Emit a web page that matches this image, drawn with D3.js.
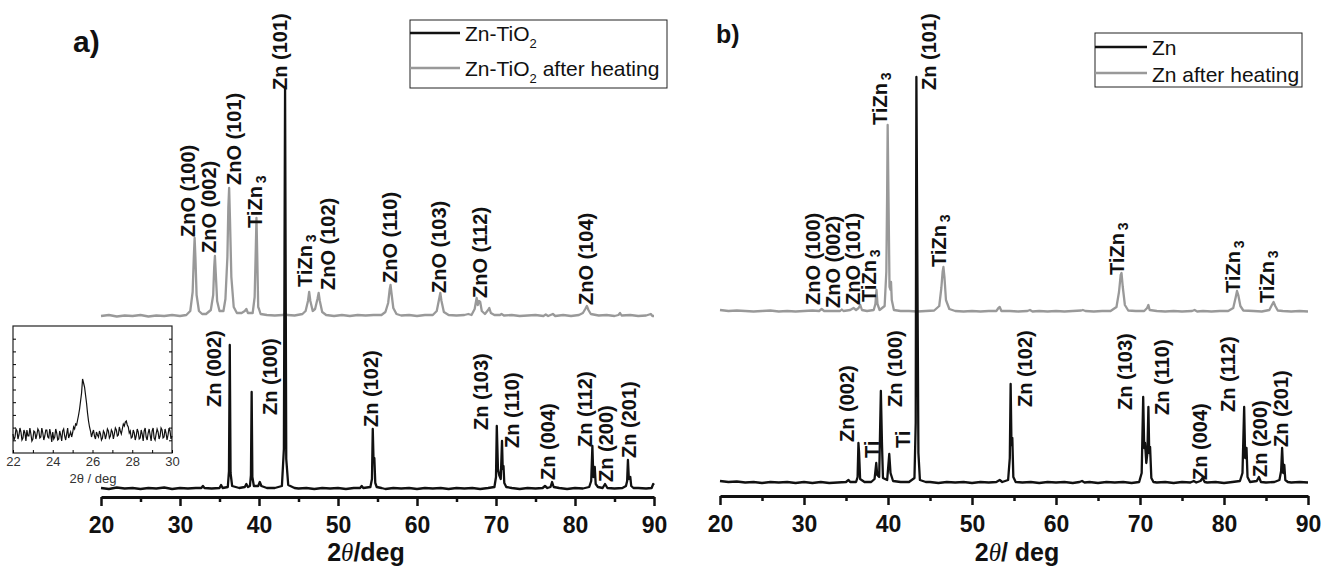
<!DOCTYPE html>
<html>
<head>
<meta charset="utf-8">
<script src="https://cdn.jsdelivr.net/npm/d3@7"></script>
<style>
  body { margin: 0; background: #fff; }
  text { font-family: "Liberation Sans", Arial, sans-serif; }
</style>
</head>
<body>
<div id="chart"></div>
<script>
var width = 1325;
var height = 570;
var black = "#111";
var grey = "#999";

// ---- data (2theta in deg, intensity in a.u. above each trace's own baseline) ----
var majorTicks = [20, 30, 40, 50, 60, 70, 80, 90];
var minorTicks = [25, 35, 45, 55, 65, 75, 85];
var insetTicks = [22, 23, 24, 25, 26, 27, 28, 29, 30];
var insetTickLabels = [22, 24, 26, 28, 30];

var znTiO2 = [
  [20,1],[21,0],[22,1.5],[23,0.5],[24,1],[25,0],[26,1],[27,0.5],[28,1.5],[29,0],[30,1],[31,0.5],[32,1],
  [32.7,1],[32.9,3],[33.1,1],[34,0.5],[35,1],[35.2,4],[35.4,1],
  [36.05,2],[36.2,18],[36.3,144],[36.4,16],[36.6,3],
  [37.5,1],[38.2,2],[38.4,5],[38.6,2],
  [38.85,3],[38.98,14],[39.07,97],[39.16,12],[39.35,3],
  [39.9,3],[40.1,7],[40.3,3],
  [41,1],[42,1],[42.9,3],[43.15,40],[43.3,401],[43.45,30],[43.7,4],
  [44.5,1],[45,0.5],[46,1],[47,0],[48,1],[49,0.5],[50,1],[51,0],[52,1],
  [52.8,1],[53,3],[53.2,1],
  [54.1,2],[54.3,10],[54.4,60],[54.5,28],[54.6,31],[54.72,6],[54.9,2],
  [55.5,1],[56,0],[57,1],[58,0.5],[59,1],[60,0],[61,1],[62,0.5],[63,1],[64,0],[65,1],[66,0.5],[67,1],[68,0],[69,1],
  [69.8,2],[70.0,12],[70.1,63],[70.25,20],[70.4,14],[70.6,10],[70.76,48],[70.85,20],[70.95,23],[71.05,6],[71.3,2],
  [72,1],[73,0],[74,1],[75,0.5],[75.9,1],[76.2,3],[76.5,1],[76.9,2],[77.1,7],[77.3,2],
  [78,1],[79,0],[80,1],[81,0.5],[81.8,2],[82.05,8],[82.2,43],[82.32,12],[82.5,22],[82.62,5],[82.9,2],
  [83.5,1],[83.8,5],[84.1,1],
  [85,0.5],[86,1],[86.45,3],[86.6,8],[86.7,29],[86.82,10],[87.0,12],[87.12,3],[87.4,1],
  [88,1],[89,0.5],[89.7,1],[89.9,5],[90,4]
];

var znTiO2Heated = [
  [20,1],[21,2],[22,0.5],[23,1.5],[24,1],[25,2],[26,0.5],[27,1.5],[28,1],[29,2],[30,1],[30.8,2],
  [31.3,6],[31.6,25],[31.75,60],[31.85,79],[31.95,60],[32.1,22],[32.4,6],[32.8,3],
  [33.3,3],[33.9,7],[34.2,22],[34.33,50],[34.42,61],[34.52,45],[34.7,16],[35.0,6],[35.5,6],
  [35.75,18],[36.0,60],[36.12,110],[36.22,129],[36.32,100],[36.5,40],[36.8,10],[37.2,4],
  [37.8,4],[38.2,6],[38.4,8],[38.6,4],
  [39.2,4],[39.45,20],[39.6,70],[39.68,99],[39.78,60],[39.9,10],[40.0,8],[40.2,3],
  [41,2],[42,1.5],[43,2],[43.3,3],[43.6,2],[44.5,1.5],[45.5,3],
  [45.9,6],[46.2,16],[46.35,25],[46.5,16],[46.8,6],[47.1,8],[47.4,18],[47.55,24],[47.7,16],[48.0,5],[48.5,2],
  [49.5,1],[50.5,2],[51.5,1],[52.5,2],[53.5,1.5],[54.5,2],[55.5,2],
  [56.0,5],[56.35,14],[56.55,28],[56.65,32],[56.8,22],[57.0,9],[57.4,3],
  [58,1.5],[59,2],[60,1],[61,2],[62,2],[62.5,6],[62.8,18],[62.95,24],[63.1,16],[63.4,5],[64,2],
  [65,1.5],[66,2],[66.5,3],[66.9,2],[67.3,8],[67.55,19],[67.7,12],[67.85,16],[68.0,15],[68.2,6],
  [68.6,3],[69.0,7],[69.15,9],[69.35,4],[69.8,2],
  [70.5,2],[70.7,3],[71.0,1.5],[72,2],[73,1],[74,1.5],[75,2],[76,1],[76.3,2.5],[76.6,1],[77.2,3],[77.5,1],
  [78.5,2],[79.5,1],[80.5,2],[81.0,4],[81.3,8],[81.5,11],[81.7,7],[82.0,3],
  [83,1.5],[84,2],[85,1],[85.5,2],[85.7,4],[85.9,1.5],
  [87,2],[88,1],[89,1.5],[89.6,3],[89.8,1],[90,1]
];

var zn = [
  [20,2],[21,1],[22,1.5],[23,0.5],[24,1],[25,0],[26,1],[27,0.5],[28,1],[29,0],[30,1],[31,0],[32,1],[33,0],[34,0.5],[35,1],
  [35.3,3],[35.5,1],[36.2,1],
  [36.38,6],[36.48,40],[36.56,30],[36.68,4],[37.2,1],[38.0,1],
  [38.4,4],[38.6,20],[38.72,8],[38.95,6],[39.15,92],[39.28,40],[39.4,5],
  [39.9,3],[40.15,29],[40.3,10],[40.6,2],[41.5,1],[42.5,1],
  [43.15,5],[43.3,60],[43.38,406],[43.5,211],[43.62,30],[43.8,3],
  [44.5,1],[45,1],[46,0],[47,1],[48,0.5],[49,1],[50,0],[51,1],[52,0.5],[52.9,1],[53.3,3],[53.6,1],
  [54.3,3],[54.5,25],[54.6,99],[54.7,38],[54.8,45],[54.92,6],[55.2,1],
  [56,0.5],[57,1],[58,0],[59,1],[60,0.5],[61,1],[62,0],[62.8,1],[63.1,2],[63.4,0.5],
  [64,1],[65,0],[66,1],[67,0.5],[68,1],[69,0],[69.9,1],
  [70.2,10],[70.38,86],[70.5,35],[70.6,40],[70.75,20],[70.88,30],[71.0,76],[71.1,30],[71.2,36],[71.35,5],[71.6,1],
  [72,0.5],[73,1],[74,0],[75,1],[76,0.5],[76.4,2],[76.7,0.5],[77.2,2],[77.45,5],[77.7,1],
  [78,0.5],[79,1],[80,0],[81,1],[81.9,2],[82.2,10],[82.4,76],[82.52,25],[82.68,35],[82.8,6],[83.1,1],
  [83.9,2],[84.15,6],[84.4,1],[85,0.5],[86,1],
  [86.6,3],[86.8,12],[86.92,35],[87.05,10],[87.18,18],[87.3,3],[87.6,1],
  [88,0.5],[89,1],[90,0.5]
];

var znHeated = [
  [20,2],[21,1],[22,1.5],[23,1],[24,0.5],[25,1],[26,1.5],[27,0.5],[28,1],[29,0.5],[30,1],[31,1.5],
  [31.8,1],[32.1,3],[32.4,1],
  [33.5,1],[34.3,1],[34.5,2.5],[34.7,1],[35.5,2],[35.9,4],[36.2,2],[36.5,4],[36.7,7],[36.9,2],
  [37.5,1],[38.3,2],[38.5,8],[38.63,22],[38.75,8],[39.0,2],
  [39.6,6],[39.8,40],[39.9,120],[39.96,187],[40.05,120],[40.18,25],[40.3,22],[40.36,30],[40.45,12],[40.7,2],
  [41.5,1],[42.5,1],[43.5,0.5],[44.5,1],[45.5,1.5],
  [46.1,6],[46.35,24],[46.5,40],[46.6,45],[46.72,35],[46.9,12],[47.3,3],[48,1],
  [49,0.5],[50,1],[51,0.5],[52,1],[52.9,1],[53.15,4],[53.3,5],[53.5,1],[54.5,1],[55.5,0.5],[56.6,1],[56.9,2],[57.2,0.5],
  [58,1],[59,0.5],[60,1],[61,0.5],[62,1],[63.0,1.5],[63.2,2],[63.5,1],[64.5,0.5],[65.5,1],[66.5,1],
  [67.2,5],[67.5,20],[67.7,37],[67.8,39],[67.95,25],[68.2,7],[68.6,1.5],
  [69.5,1],[70.5,1],[70.85,4],[71.0,7],[71.15,2],[72,1],[73,0.5],[74,1],[75,0.5],[76.2,1],[76.5,2],[76.8,0.5],
  [77.5,1],[78.5,0.5],[79.5,1],[80.5,1],
  [81.1,4],[81.4,15],[81.55,21],[81.7,17],[81.95,6],[82.3,1.5],[83.5,1],[84.5,0.5],
  [85.4,2],[85.7,7],[85.9,10],[86.1,6],[86.4,1.5],
  [87,1],[88,0.5],[89,1],[90,0.5]
];

// inset of Zn-TiO2, 22-30 deg
var insetScan = [
  [22.00,19],[22.05,13],[22.10,16],[22.15,24],[22.20,22],[22.25,14],[22.30,18],[22.35,25],[22.40,21],[22.45,13],
  [22.50,15],[22.55,23],[22.60,20],[22.65,12],[22.70,23],[22.75,17],[22.80,17],[22.85,25],[22.90,19],[22.95,12],
  [23.00,14],[23.05,22],[23.10,21],[23.15,14],[23.20,18],[23.25,24],[23.30,22],[23.35,15],[23.40,16],[23.45,25],
  [23.50,20],[23.55,13],[23.60,17],[23.65,23],[23.70,23],[23.75,16],[23.80,15],[23.85,24],[23.90,19],[23.95,11],
  [24.00,21],[24.05,14],[24.10,16],[24.15,24],[24.20,20],[24.25,13],[24.30,14],[24.35,22],[24.40,18],[24.45,12],
  [24.50,22],[24.55,24],[24.60,17],[24.65,13],[24.70,19],[24.75,25],[24.80,15],[24.85,18],[24.90,21],[24.95,16],
  [25.00,20],[25.05,26],[25.10,24],[25.15,29],[25.20,28],[25.25,33],[25.30,38],[25.35,44],[25.40,52],[25.45,60],
  [25.50,74],[25.55,70],[25.60,66],[25.65,58],[25.70,50],[25.75,40],[25.80,32],[25.85,26],[25.90,22],[25.95,16],
  [26.00,20],[26.05,23],[26.10,17],[26.15,14],[26.20,21],[26.25,18],[26.30,16],[26.35,22],[26.40,19],[26.45,13],
  [26.50,15],[26.55,22],[26.60,20],[26.65,14],[26.70,18],[26.75,24],[26.80,22],[26.85,15],[26.90,17],[26.95,23],
  [27.00,21],[27.05,14],[27.10,19],[27.15,25],[27.20,23],[27.25,17],[27.30,18],[27.35,26],[27.40,22],[27.45,19],
  [27.50,24],[27.55,29],[27.60,27],[27.65,31],[27.70,32],[27.75,28],[27.80,26],[27.85,20],[27.90,22],[27.95,15],
  [28.00,16],[28.05,23],[28.10,20],[28.15,13],[28.20,17],[28.25,24],[28.30,21],[28.35,14],[28.40,15],[28.45,23],
  [28.50,19],[28.55,12],[28.60,22],[28.65,25],[28.70,16],[28.75,13],[28.80,20],[28.85,24],[28.90,18],[28.95,12],
  [29.00,22],[29.05,25],[29.10,15],[29.15,13],[29.20,19],[29.25,24],[29.30,21],[29.35,14],[29.40,17],[29.45,25],
  [29.50,23],[29.55,15],[29.60,16],[29.65,24],[29.70,20],[29.75,13],[29.80,18],[29.85,25],[29.90,22],[29.95,14],
  [30.00,17]
];

// peak labels: [text, 2theta, intensity]
var labelsA_black = [
  ["Zn (101)", 43.54, 399], ["Zn (002)", 35.25, 82], ["Zn (100)", 42.22, 74], ["Zn (102)", 55.0, 62],
  ["Zn (103)", 69.05, 59], ["Zn (110)", 72.97, 41], ["Zn (004)", 77.53, 9], ["Zn (112)", 82.09, 42],
  ["Zn (200)", 84.75, 7], ["Zn (201)", 87.78, 31]
];
var labelsA_grey = [
  ["ZnO (100)", 31.84, 80], ["ZnO (002)", 34.62, 64], ["ZnO (101)", 37.78, 132], ["TiZn3", 40.44, 89],
  ["TiZn3", 46.65, 30], ["ZnO (102)", 49.56, 27], ["ZnO (110)", 57.41, 34], ["ZnO (103)", 63.73, 24],
  ["ZnO (112)", 68.92, 19], ["ZnO (104)", 82.22, 12]
];
var labelsB_black = [
  ["Zn (101)", 45.77, 393], ["Zn (002)", 36.01, 41], ["Ti", 38.87, 25], ["Zn (100)", 41.61, 76],
  ["Ti", 42.56, 35], ["Zn (102)", 57.2, 76], ["Zn (103)", 68.99, 73], ["Zn (110)", 73.51, 68],
  ["Zn (004)", 77.92, 3], ["Zn (112)", 81.25, 71], ["Zn (200)", 85.06, 6], ["Zn (201)", 87.56, 36]
];
var labelsB_grey = [
  ["ZnO (100)", 31.85, 7], ["ZnO (002)", 34.23, 4], ["ZnO (101)", 36.61, 7], ["TiZn3", 38.63, 10],
  ["TiZn3", 39.94, 187], ["TiZn3", 46.96, 45], ["TiZn3", 68.15, 37], ["TiZn3", 81.85, 19], ["TiZn3", 86.01, 9]
];

var heatedOffsetA = 172;
var heatedOffsetB = 171;

// ---- drawing ----
var svg = d3.select("#chart").append("svg")
  .attr("width", width)
  .attr("height", height)
  .style("background", "#fff");

var xA = d3.scaleLinear().domain([20, 90]).range([101, 654]);
var yA = d3.scaleLinear().domain([0, 420]).range([489, 69]);
var xB = d3.scaleLinear().domain([20, 90]).range([720, 1308]);
var yB = d3.scaleLinear().domain([0, 420]).range([483, 63]);

function drawTrace(data, x, y, offset, color) {
  var line = d3.line()
    .x(d => x(d[0]))
    .y(d => y(d[1] + offset));
  svg.append("path")
    .datum(data)
    .attr("d", line)
    .attr("fill", "none")
    .attr("stroke", color)
    .attr("stroke-width", 2.3)
    .attr("stroke-linejoin", "round");
}

function drawLabels(list, x, y, offset) {
  list.forEach(function(l) {
    var t = svg.append("text")
      .attr("transform", "translate(" + x(l[1]) + "," + y(l[2] + offset) + ") rotate(-90)")
      .attr("font-size", 20)
      .attr("font-weight", "bold")
      .attr("fill", "#111");
    if (l[0] == "TiZn3") {
      t.append("tspan").text("TiZn");
      t.append("tspan").text("3").attr("font-size", 14).attr("dx", 3).attr("dy", 4);
    } else {
      t.text(l[0]);
    }
  });
}

function drawAxis(x, yPos) {
  var major = svg.append("g")
    .attr("transform", "translate(0," + yPos + ")")
    .call(d3.axisBottom(x).tickValues(majorTicks).tickSizeInner(9).tickSizeOuter(0).tickPadding(11));
  major.select(".domain").attr("stroke", "#111").attr("stroke-width", 3);
  major.selectAll(".tick line").attr("stroke", "#111").attr("stroke-width", 2.5);
  major.selectAll(".tick text")
    .attr("font-family", "'Liberation Sans', Arial, sans-serif")
    .attr("font-size", 23)
    .attr("font-weight", "bold")
    .attr("fill", "#111");

  var minor = svg.append("g")
    .attr("transform", "translate(0," + yPos + ")")
    .call(d3.axisBottom(x).tickValues(minorTicks).tickSizeInner(5).tickSizeOuter(0).tickFormat(""));
  minor.select(".domain").remove();
  minor.selectAll(".tick line").attr("stroke", "#111").attr("stroke-width", 2.5);
}

function drawTitle(cx, sep) {
  var t = svg.append("text")
    .attr("x", cx)
    .attr("y", 561)
    .attr("text-anchor", "middle")
    .attr("font-size", 25)
    .attr("font-weight", "bold")
    .attr("fill", "#111");
  t.append("tspan").text("2");
  t.append("tspan").text("θ")
    .attr("font-family", "'Liberation Serif', serif")
    .attr("font-style", "italic")
    .attr("font-weight", "normal");
  t.append("tspan").text(sep + "deg");
}

function drawLegend(bx, by, bw, bh, items) {
  svg.append("rect")
    .attr("x", bx).attr("y", by).attr("width", bw).attr("height", bh)
    .attr("fill", "#fff").attr("stroke", "#222").attr("stroke-width", 1);
  items.forEach(function(it) {
    svg.append("line")
      .attr("x1", bx).attr("x2", bx + it.len)
      .attr("y1", it.ly).attr("y2", it.ly)
      .attr("stroke", it.color).attr("stroke-width", 2.3);
    var t = svg.append("text")
      .attr("x", bx + it.len + 5).attr("y", it.ty)
      .attr("font-size", 21).attr("fill", "#111");
    t.append("tspan").text(it.text[0]);
    if (it.text.length > 1) {
      t.append("tspan").text(it.text[1]).attr("font-size", 13).attr("dy", 7);
      if (it.text[2]) t.append("tspan").text(it.text[2]).attr("dy", -7);
    }
  });
}

// panel a
drawTrace(znTiO2Heated, xA, yA, heatedOffsetA, grey);
drawTrace(znTiO2, xA, yA, 0, black);
drawLabels(labelsA_grey, xA, yA, heatedOffsetA);
drawLabels(labelsA_black, xA, yA, 0);
drawAxis(xA, 497);
drawTitle(366, "/");

svg.append("text")
  .attr("x", 73).attr("y", 52)
  .attr("font-size", 30).attr("font-weight", "bold").attr("fill", "#111")
  .text("a)");

drawLegend(410, 20, 257, 68, [
  {color: black, len: 50, ly: 33, ty: 41, text: ["Zn-TiO", "2"]},
  {color: grey, len: 50, ly: 68, ty: 76, text: ["Zn-TiO", "2", " after heating"]}
]);

// inset
var xI = d3.scaleLinear().domain([22, 30]).range([13, 172]);
var yI = d3.scaleLinear().domain([0, 127]).range([453, 326]);

svg.append("rect")
  .attr("x", 13).attr("y", 326).attr("width", 159).attr("height", 127)
  .attr("fill", "none").attr("stroke", "#222").attr("stroke-width", 1.2);

var insetX = svg.append("g")
  .attr("transform", "translate(0,453)")
  .call(d3.axisBottom(xI).tickValues(insetTicks).tickSizeInner(-3).tickSizeOuter(0).tickPadding(4)
    .tickFormat(d => insetTickLabels.indexOf(d) >= 0 ? d : ""));
insetX.select(".domain").remove();
insetX.selectAll(".tick text")
  .attr("font-family", "'Liberation Sans', Arial, sans-serif")
  .attr("font-size", 13).attr("fill", "#333");

var insetYTicks = d3.range(1, 10).map(k => k * 12.7);
svg.append("g").attr("transform", "translate(13,0)")
  .call(d3.axisLeft(yI).tickValues(insetYTicks).tickSizeInner(-3).tickFormat(""))
  .select(".domain").remove();
svg.append("g").attr("transform", "translate(172,0)")
  .call(d3.axisRight(yI).tickValues(insetYTicks).tickSizeInner(-3).tickFormat(""))
  .select(".domain").remove();

svg.append("path")
  .datum(insetScan)
  .attr("d", d3.line().x(d => xI(d[0])).y(d => yI(d[1])))
  .attr("fill", "none").attr("stroke", "#111").attr("stroke-width", 1.2);

svg.append("text")
  .attr("x", 93).attr("y", 483).attr("text-anchor", "middle")
  .attr("font-size", 13).attr("fill", "#333")
  .text("2θ / deg");

// panel b
drawTrace(znHeated, xB, yB, heatedOffsetB, grey);
drawTrace(zn, xB, yB, 0, black);
drawLabels(labelsB_grey, xB, yB, heatedOffsetB);
drawLabels(labelsB_black, xB, yB, 0);
drawAxis(xB, 496);
drawTitle(1017, "/ ");

svg.append("text")
  .attr("x", 716).attr("y", 43)
  .attr("font-size", 25).attr("font-weight", "bold").attr("fill", "#111")
  .text("b)");

drawLegend(1095, 33, 207, 54, [
  {color: black, len: 52, ly: 47, ty: 55, text: ["Zn"]},
  {color: grey, len: 52, ly: 73, ty: 82, text: ["Zn after heating"]}
]);
</script>
</body>
</html>
